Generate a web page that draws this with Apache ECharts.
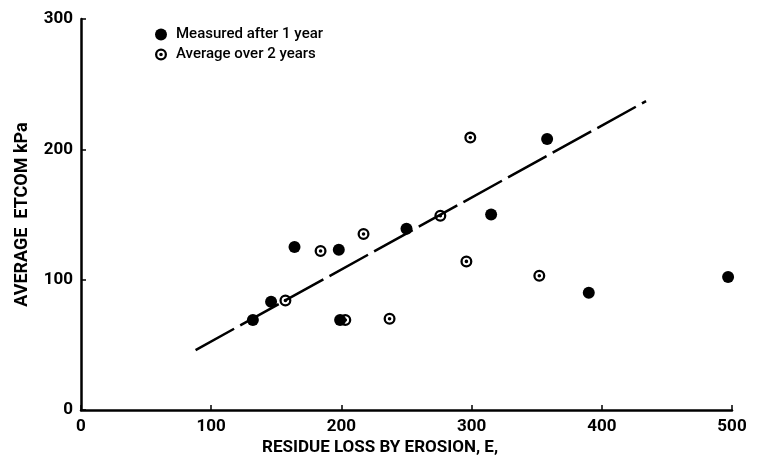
<!DOCTYPE html>
<html>
<head>
<meta charset="utf-8">
<script src="https://cdn.jsdelivr.net/npm/echarts@6/dist/echarts.min.js"></script>
<style>
  html, body { margin: 0; padding: 0; background: #fff; }
  #chart { width: 758px; height: 462px; }
</style>
</head>
<body>
<div id="chart"></div>
<script>
// measured after 1 year: [residue loss E, ETCOM kPa]
var measuredPoints = [
    [132, 69], [146, 83], [164, 125], [198, 123], [199, 69],
    [250, 139], [315, 150], [358, 208], [390, 90], [497, 102]
];
// average over 2 years
var averagePoints = [
    [157, 84], [184, 122], [203, 69], [217, 135], [237, 70],
    [276, 149], [296, 114], [299, 209], [352, 103]
];
// fitted line end points
var trendLine = [[88, 46], [434, 237]];

var xTicks = [0, 100, 200, 300, 400, 500];
var yTicks = [0, 100, 200, 300];

// circle with a dot in the middle (outer ring cw, hole ccw, dot cw)
var ringDot = 'path://M50,0 A50,50 0 1,1 50,100 A50,50 0 1,1 50,0 Z ' +
    'M50,19 A31,31 0 1,0 50,81 A31,31 0 1,0 50,19 Z ' +
    'M50,35 A15,15 0 1,1 50,65 A15,15 0 1,1 50,35 Z';

var font = 'Roboto';

var chart = echarts.init(document.getElementById('chart'));
var option = {
    backgroundColor: '#fff',
    animation: false,
    title: {
        text: 'RESIDUE LOSS BY EROSION, E,',
        left: 257,
        top: 434,
        textStyle: {
            fontFamily: font,
            fontSize: 17,
            fontWeight: 'bold',
            color: '#000'
        }
    },
    legend: {
        orient: 'vertical',
        left: 150,
        top: 22,
        itemWidth: 20,
        itemHeight: 12,
        itemGap: 5,
        data: ['Measured after 1 year', 'Average over 2 years'],
        textStyle: {
            fontFamily: font,
            fontSize: 15,
            fontWeight: 500,
            color: '#000'
        }
    },
    grid: {
        left: 81,
        right: 26,
        top: 19,
        bottom: 52,
        outerBoundsMode: 'none'
    },
    xAxis: {
        type: 'value',
        min: xTicks[0],
        max: xTicks[xTicks.length - 1],
        interval: 100,
        splitLine: { show: false },
        axisLine: { lineStyle: { color: '#000', width: 2.5 } },
        axisTick: { inside: true, length: 5, lineStyle: { color: '#000', width: 1.5 } },
        axisLabel: {
            margin: 8,
            fontFamily: font,
            fontSize: 17,
            fontWeight: 'bold',
            color: '#000'
        }
    },
    yAxis: {
        type: 'value',
        min: yTicks[0],
        max: yTicks[yTicks.length - 1],
        interval: 100,
        name: 'AVERAGE  ETCOM kPa',
        nameLocation: 'middle',
        nameGap: 50,
        nameTextStyle: {
            fontFamily: font,
            fontSize: 18,
            fontWeight: 'bold',
            color: '#000'
        },
        splitLine: { show: false },
        axisLine: { lineStyle: { color: '#000', width: 2.5 } },
        axisTick: { inside: true, length: 5, lineStyle: { color: '#000', width: 1.5 } },
        axisLabel: {
            margin: 8,
            fontFamily: font,
            fontSize: 17,
            fontWeight: 'bold',
            color: '#000'
        }
    },
    series: [
        {
            name: 'trend',
            type: 'line',
            data: trendLine,
            showSymbol: false,
            silent: true,
            lineStyle: { color: '#000', width: 2.5, type: [44, 7] }
        },
        {
            name: 'Average over 2 years',
            type: 'scatter',
            data: averagePoints,
            symbol: ringDot,
            symbolSize: 12,
            itemStyle: { color: '#000', opacity: 1 }
        },
        {
            name: 'Measured after 1 year',
            type: 'scatter',
            data: measuredPoints,
            symbol: 'circle',
            symbolSize: 12,
            itemStyle: { color: '#000', opacity: 1 }
        }
    ]
};
chart.setOption(option);
</script>
</body>
</html>
